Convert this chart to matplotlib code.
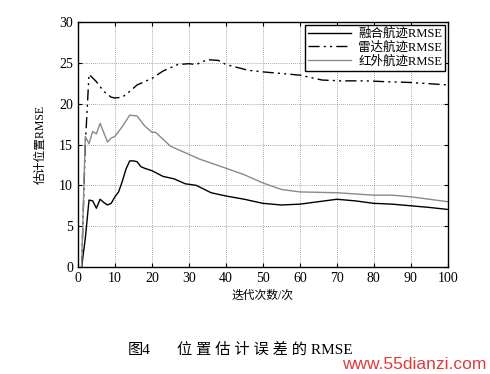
import matplotlib
matplotlib.use("Agg")
from matplotlib import pyplot as plt

# iteration index and RMSE values
fusion_x = [1, 2, 3, 4, 5, 6, 7, 8, 9, 10, 11, 12, 13, 14, 15, 16, 17, 18, 20, 23,
            26, 29, 32, 36, 40, 45, 48, 50, 55, 60, 65, 70, 75, 80, 85, 90, 95, 100]
fusion_y = [0, 3.5, 8.2, 8.1, 7.2, 8.3, 7.9, 7.6, 7.8, 8.6, 9.2, 10.5, 12.0, 13.0, 13.0, 12.9,
            12.3, 12.1, 11.8, 11.1, 10.8, 10.2, 10.0, 9.1, 8.7, 8.3, 8.0, 7.8, 7.6, 7.7,
            8.0, 8.3, 8.1, 7.8, 7.7, 7.5, 7.3, 7.05]

radar_x = [1, 2, 3, 5, 7, 9, 10, 12, 14, 16, 18, 20, 23, 27, 30, 32, 35, 38, 40, 46,
           50, 60, 66, 71, 78, 83, 90, 100]
radar_y = [0, 15, 23.6, 22.7, 21.5, 20.8, 20.7, 20.8, 21.5, 22.3, 22.7, 23.1, 24.0, 24.8,
           24.9, 24.8, 25.4, 25.3, 24.8, 24.1, 23.9, 23.5, 22.9, 22.8, 22.8, 22.7, 22.6, 22.3]

infrared_x = [1, 2, 3, 4, 5, 6, 8, 9, 10, 12, 14, 16, 18, 20, 21, 25, 30, 33, 40, 45,
              50, 55, 60, 70, 80, 85, 90, 95, 100]
infrared_y = [0, 16.0, 15.1, 16.6, 16.3, 17.6, 15.3, 15.8, 16.0, 17.2, 18.6, 18.5, 17.3,
              16.5, 16.5, 14.8, 13.8, 13.2, 12.1, 11.3, 10.3, 9.5, 9.2, 9.1, 8.8, 8.8,
              8.6, 8.3, 8.0]

labels = ["融合航迹RMSE", "雷达航迹RMSE", "红外航迹RMSE"]
xticks = list(range(0, 101, 10))
yticks = list(range(0, 31, 5))

fonts = ["Liberation Serif", "Noto Sans CJK SC"]
plt.rcParams["font.family"] = fonts

fig = plt.figure(figsize=(4.9, 3.74), dpi=100)
ax = fig.add_axes([0.159, 0.286, 0.755, 0.655])

ax.plot(fusion_x, fusion_y, color="black", lw=1.0, label=labels[0])
ax.plot(radar_x, radar_y, color="black", lw=1.0, ls=(0, (8, 3, 1.5, 3, 1.5, 3)), label=labels[1])
ax.plot(infrared_x, infrared_y, color="#8a8a8a", lw=1.0, label=labels[2])

ax.set_xlim(0, 100)
ax.set_ylim(0, 30)
ax.set_xticks(xticks)
ax.set_yticks(yticks)
ax.tick_params(direction="in", top=True, right=True, labelsize=10, length=3)
ax.grid(True, ls=(0, (1, 1.5)), color="#8c8c8c", lw=0.6)
for s in ax.spines.values():
    s.set_linewidth(1.0)

ax.set_xlabel("迭代次数/次", fontsize=8.5, labelpad=4)
ax.set_ylabel("估计位置RMSE", fontsize=8.5, labelpad=9)

leg = ax.legend(loc="upper right", fontsize=9, fancybox=False, framealpha=1,
                edgecolor="black", handlelength=3.4, borderpad=0.25, labelspacing=0.12,
                borderaxespad=0.2, handletextpad=0.6)
leg.get_frame().set_linewidth(1.0)

fig.text(0.26, 0.064, "图4", fontsize=11, ha="left", va="center")
fig.text(0.361, 0.064, "位 置 估 计 误 差 的 RMSE", fontsize=11, ha="left", va="center")
fig.text(0.992, 0.005, "www.55dianzi.com", fontsize=12.5, color="#e03a3a", ha="right",
         va="bottom", family="Liberation Sans",
         bbox=dict(facecolor="white", edgecolor="none", pad=0.3))

fig.savefig("out.png", dpi=100)
